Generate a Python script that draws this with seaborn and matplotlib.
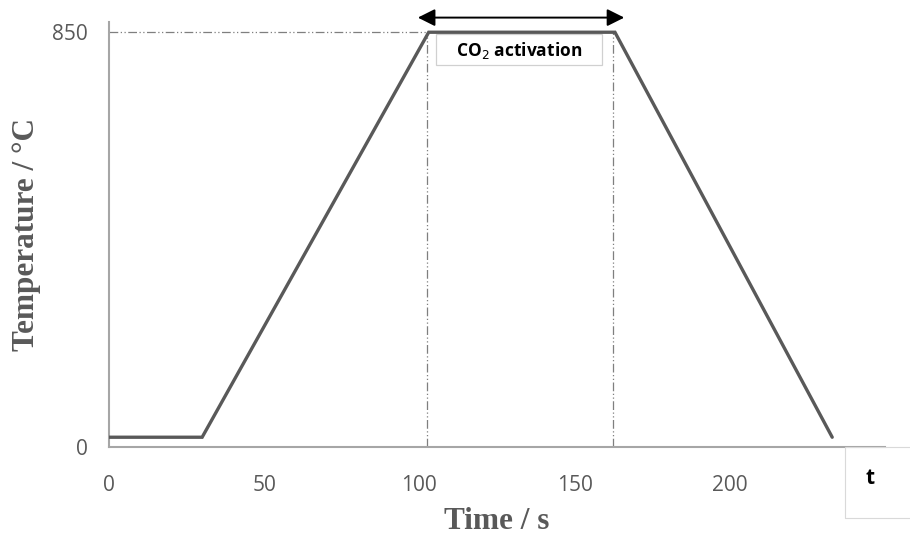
import matplotlib
matplotlib.use("Agg")
import matplotlib.pyplot as plt
import seaborn as sns
import pandas as pd

# Heating program: hold, ramp, CO2 activation plateau, cool down
time_s = [0, 30, 103, 163, 233]
temperature_c = [20, 20, 850, 850, 20]
x_ticks = [0, 50, 100, 150, 200]
y_ticks = [0, 850]
activation_start = 102.5
activation_end = 162.5
activation_temp = 850

sns.set_theme(style="white")
plt.rcParams["font.family"] = ["Open Sans", "DejaVu Sans"]

df = pd.DataFrame({"Time": time_s, "Temperature": temperature_c})

fig = plt.figure(figsize=(9.1, 5.35), dpi=100)
ax = fig.add_axes([0.1198, 0.1645, 0.8527, 0.7944])

axis_grey = "#a6a6a6"
text_grey = "#595959"
guide = dict(color="#7f7f7f", lw=0.9, dashes=(7, 2, 1, 2, 1, 2))

# Guide lines marking the activation window
ax.plot([0, activation_start], [activation_temp, activation_temp], **guide, zorder=1)
for xv in (activation_start, activation_end):
    ax.plot([xv, xv], [0, activation_temp], **guide, zorder=1)

# Label box for the plateau
ax.add_patch(plt.Rectangle((105.2, 783), 53.6, 63, fc="white", ec="#d0d0d0",
                           lw=0.9, zorder=2))
ax.text(132.0, 813, "CO$_2$ activation", ha="center", va="center",
        fontsize=12.5, fontweight="bold", color="black", zorder=4)

sns.lineplot(data=df, x="Time", y="Temperature", ax=ax, color="#595959",
             lw=2.4, zorder=3, solid_joinstyle="miter")

ax.set_xlim(0, 250)
ax.set_ylim(0, 871)
ax.set_xticks(x_ticks)
ax.set_yticks(y_ticks)
ax.tick_params(axis="both", length=0, labelsize=15, colors=text_grey)
ax.tick_params(axis="y", pad=15)
ax.tick_params(axis="x", pad=20)
for side in ("top", "right"):
    ax.spines[side].set_visible(False)
for side in ("left", "bottom"):
    ax.spines[side].set_color(axis_grey)
    ax.spines[side].set_linewidth(1.5)

ax.set_xlabel("Time / s", family="Liberation Serif", fontweight="bold",
              fontsize=22.5, color=text_grey, labelpad=8)
ax.set_ylabel("Temperature / °C", family="Liberation Serif", fontweight="bold",
              fontsize=22.5, color=text_grey, labelpad=8)

# Double-headed arrow spanning the activation step
ax.annotate("", xy=(99.5, 880), xytext=(166, 880), xycoords="data",
            annotation_clip=False,
            arrowprops=dict(arrowstyle="<|-|>", color="black", lw=1.4,
                            mutation_scale=26, shrinkA=0, shrinkB=0))

# Axis symbol box at the end of the time axis
fig.text(0.956, 0.105, "t", ha="center", va="center", fontsize=15,
         fontweight="bold", color="black")
fig.patches.append(plt.Rectangle((0.9286, 0.032), 0.08, 0.132,
                                 transform=fig.transFigure, fill=False,
                                 ec="#d9d9d9", lw=0.8))

fig.savefig("out.png", dpi=100)
